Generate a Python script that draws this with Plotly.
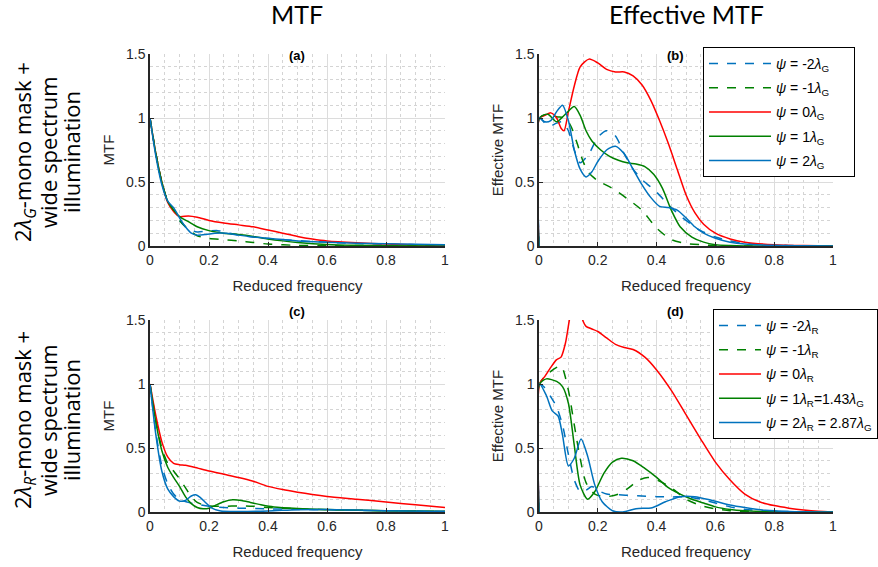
import plotly.graph_objects as go

# ---------------- data ----------------
# Panel (a): MTF, 2λG-mono mask
a_m2_x = [0, 0.02, 0.04, 0.06, 0.08, 0.10, 0.13, 0.16, 0.19, 0.23, 0.27, 0.35, 0.45, 0.55, 0.7, 0.85, 1.0]
a_m2_y = [1.0, 0.72, 0.5, 0.35, 0.28, 0.2, 0.13, 0.11, 0.115, 0.12, 0.1, 0.07, 0.05, 0.035, 0.02, 0.012, 0.008]
a_m1_x = [0, 0.02, 0.04, 0.06, 0.08, 0.10, 0.13, 0.16, 0.2, 0.25, 0.3, 0.35, 0.4, 0.5, 0.6, 0.8, 1.0]
a_m1_y = [1.0, 0.72, 0.5, 0.35, 0.28, 0.2, 0.13, 0.08, 0.06, 0.05, 0.04, 0.028, 0.015, 0.005, 0.002, 0, 0]
a_0_x = [0, 0.02, 0.04, 0.06, 0.08, 0.1, 0.13, 0.16, 0.2, 0.25, 0.3, 0.35, 0.4, 0.45, 0.5, 0.55, 0.6, 0.7, 0.8, 0.9, 1.0]
a_0_y = [1.0, 0.72, 0.5, 0.34, 0.27, 0.23, 0.235, 0.225, 0.2, 0.18, 0.165, 0.15, 0.125, 0.1, 0.075, 0.055, 0.04, 0.025, 0.015, 0.01, 0.008]
a_p1_x = [0, 0.02, 0.04, 0.06, 0.08, 0.1, 0.13, 0.16, 0.2, 0.25, 0.3, 0.35, 0.4, 0.45, 0.5, 0.6, 0.7, 0.8, 1.0]
a_p1_y = [1.0, 0.72, 0.5, 0.35, 0.28, 0.23, 0.19, 0.15, 0.12, 0.1, 0.09, 0.075, 0.055, 0.04, 0.028, 0.012, 0.005, 0.002, 0]
a_p2_x = [0, 0.02, 0.04, 0.06, 0.08, 0.1, 0.12, 0.14, 0.16, 0.19, 0.22, 0.26, 0.3, 0.35, 0.4, 0.45, 0.5, 0.6, 0.7, 0.8, 0.9, 1.0]
a_p2_y = [1.0, 0.7, 0.48, 0.35, 0.3, 0.22, 0.15, 0.1, 0.085, 0.09, 0.1, 0.1, 0.085, 0.07, 0.06, 0.05, 0.04, 0.03, 0.022, 0.018, 0.014, 0.01]

# Panel (b): effective MTF, 2λG-mono mask
b_m2_x = [0, 0.002, 0.02, 0.04, 0.06, 0.08, 0.1, 0.12, 0.14, 0.17, 0.2, 0.23, 0.26, 0.29, 0.32, 0.35, 0.4, 0.45, 0.5, 0.55, 0.6, 0.65, 0.7, 0.8, 0.9, 1.0]
b_m2_y = [0, 1.0, 0.96, 0.94, 0.96, 0.97, 0.9, 0.75, 0.65, 0.72, 0.85, 0.9, 0.86, 0.72, 0.6, 0.52, 0.42, 0.3, 0.2, 0.12, 0.07, 0.04, 0.02, 0.008, 0.002, 0]
b_m1_x = [0, 0.002, 0.03, 0.06, 0.09, 0.11, 0.13, 0.15, 0.17, 0.2, 0.25, 0.3, 0.35, 0.4, 0.45, 0.5, 0.55, 0.6, 0.7, 1.0]
b_m1_y = [0, 1.0, 1.03, 1.01, 1.0, 0.93, 0.8, 0.66, 0.57, 0.51, 0.45, 0.37, 0.28, 0.14, 0.05, 0.02, 0.01, 0.004, 0, 0]
b_0_x = [0, 0.002, 0.02, 0.04, 0.06, 0.075, 0.085, 0.1, 0.12, 0.14, 0.17, 0.2, 0.23, 0.26, 0.29, 0.32, 0.35, 0.38, 0.41, 0.44, 0.47, 0.5, 0.53, 0.56, 0.6, 0.65, 0.7, 0.8, 0.9, 1.0]
b_0_y = [0, 1.0, 1.02, 1.04, 1.0, 0.92, 0.9, 1.05, 1.25, 1.4, 1.46, 1.43, 1.38, 1.36, 1.36, 1.33, 1.26, 1.14, 0.98, 0.8, 0.6, 0.4, 0.26, 0.17, 0.1, 0.055, 0.03, 0.01, 0.003, 0]
b_p1_x = [0, 0.002, 0.03, 0.06, 0.09, 0.12, 0.14, 0.16, 0.18, 0.21, 0.24, 0.27, 0.3, 0.33, 0.36, 0.39, 0.42, 0.45, 0.48, 0.52, 0.56, 0.6, 0.65, 0.7, 1.0]
b_p1_y = [0, 1.0, 1.03, 0.97, 1.03, 1.09, 1.02, 0.9, 0.82, 0.75, 0.7, 0.67, 0.65, 0.64, 0.62, 0.56, 0.45, 0.28, 0.15, 0.07, 0.03, 0.01, 0.003, 0, 0]
b_p2_x = [0, 0.002, 0.02, 0.04, 0.06, 0.08, 0.1, 0.12, 0.14, 0.16, 0.18, 0.2, 0.23, 0.26, 0.29, 0.32, 0.35, 0.38, 0.41, 0.44, 0.47, 0.5, 0.53, 0.56, 0.6, 0.65, 0.7, 0.8, 0.9, 1.0]
b_p2_y = [0, 1.0, 0.97, 0.98, 1.05, 1.1, 0.98, 0.75, 0.6, 0.54, 0.58, 0.66, 0.75, 0.78, 0.72, 0.6, 0.48, 0.38, 0.31, 0.3, 0.28, 0.22, 0.15, 0.1, 0.06, 0.03, 0.015, 0.005, 0.001, 0]

# Panel (c): MTF, 2λR-mono mask
c_m2_x = [0, 0.02, 0.04, 0.06, 0.08, 0.1, 0.13, 0.16, 0.2, 0.25, 0.3, 0.4, 0.5, 0.6, 0.8, 1.0]
c_m2_y = [1.0, 0.62, 0.36, 0.22, 0.14, 0.1, 0.075, 0.06, 0.045, 0.035, 0.03, 0.025, 0.02, 0.017, 0.01, 0.005]
c_m1_x = [0, 0.02, 0.04, 0.06, 0.08, 0.1, 0.12, 0.14, 0.16, 0.19, 0.22, 0.26, 0.3, 0.35, 0.4, 0.5, 0.6, 0.8, 1.0]
c_m1_y = [1.0, 0.72, 0.5, 0.38, 0.32, 0.26, 0.19, 0.12, 0.075, 0.05, 0.045, 0.045, 0.048, 0.045, 0.035, 0.025, 0.018, 0.01, 0.005]
c_0_x = [0, 0.02, 0.04, 0.06, 0.08, 0.1, 0.12, 0.15, 0.2, 0.25, 0.3, 0.35, 0.4, 0.45, 0.5, 0.55, 0.6, 0.7, 0.8, 0.9, 1.0]
c_0_y = [1.0, 0.75, 0.55, 0.43, 0.38, 0.37, 0.365, 0.35, 0.32, 0.295, 0.27, 0.24, 0.2, 0.175, 0.155, 0.137, 0.122, 0.1, 0.078, 0.056, 0.036]
c_p1_x = [0, 0.02, 0.04, 0.06, 0.08, 0.1, 0.12, 0.14, 0.16, 0.18, 0.2, 0.22, 0.25, 0.28, 0.31, 0.34, 0.38, 0.42, 0.5, 0.6, 0.8, 1.0]
c_p1_y = [1.0, 0.7, 0.48, 0.35, 0.27, 0.2, 0.12, 0.065, 0.035, 0.025, 0.03, 0.05, 0.08, 0.095, 0.09, 0.075, 0.055, 0.04, 0.028, 0.02, 0.01, 0.004]
c_p2_x = [0, 0.02, 0.04, 0.06, 0.08, 0.1, 0.12, 0.14, 0.155, 0.17, 0.19, 0.21, 0.24, 0.3, 0.4, 0.5, 0.6, 0.7, 0.8, 1.0]
c_p2_y = [1.0, 0.6, 0.32, 0.18, 0.12, 0.085, 0.09, 0.125, 0.135, 0.115, 0.07, 0.03, 0.008, 0.004, 0.008, 0.018, 0.02, 0.015, 0.01, 0.004]

# Panel (d): effective MTF, 2λR-mono mask
d_m2_x = [0, 0.002, 0.02, 0.04, 0.06, 0.08, 0.1, 0.12, 0.14, 0.16, 0.18, 0.2, 0.23, 0.27, 0.3, 0.35, 0.4, 0.45, 0.5, 0.55, 0.6, 0.65, 0.7, 0.8, 0.9, 1.0]
d_m2_y = [0, 1.0, 0.97, 0.9, 0.82, 0.68, 0.45, 0.25, 0.16, 0.17, 0.2, 0.17, 0.14, 0.135, 0.13, 0.125, 0.12, 0.118, 0.118, 0.1, 0.07, 0.04, 0.02, 0.006, 0.001, 0]
d_m1_x = [0, 0.002, 0.03, 0.06, 0.076, 0.1, 0.12, 0.14, 0.16, 0.19, 0.23, 0.27, 0.3, 0.34, 0.37, 0.39, 0.42, 0.45, 0.5, 0.55, 0.6, 0.65, 0.7, 0.8, 1.0]
d_m1_y = [0, 1.0, 1.08, 1.13, 1.14, 0.95, 0.68, 0.42, 0.23, 0.14, 0.12, 0.14, 0.18, 0.25, 0.27, 0.26, 0.23, 0.19, 0.1, 0.05, 0.025, 0.01, 0.004, 0, 0]
d_0_x = [0, 0.002, 0.02, 0.04, 0.06, 0.075, 0.09, 0.105, 0.12, 0.135, 0.15, 0.16, 0.18, 0.2, 0.23, 0.26, 0.29, 0.32, 0.36, 0.4, 0.45, 0.5, 0.55, 0.6, 0.65, 0.7, 0.75, 0.8, 0.85, 0.9, 0.95, 1.0]
d_0_y = [0, 1.0, 1.06, 1.13, 1.19, 1.21, 1.32, 1.52, 1.65, 1.62, 1.49, 1.45, 1.43, 1.41, 1.36, 1.31, 1.285, 1.27, 1.21, 1.11, 0.95, 0.76, 0.57, 0.39, 0.25, 0.14, 0.08, 0.05, 0.03, 0.015, 0.005, 0]
d_p1_x = [0, 0.002, 0.025, 0.06, 0.08, 0.1, 0.12, 0.14, 0.165, 0.19, 0.22, 0.25, 0.28, 0.32, 0.36, 0.4, 0.44, 0.48, 0.52, 0.56, 0.6, 0.65, 0.7, 0.8, 1.0]
d_p1_y = [0, 1.0, 1.04, 1.02, 0.98, 0.85, 0.52, 0.21, 0.1, 0.16, 0.3, 0.39, 0.42, 0.4, 0.34, 0.27, 0.19, 0.14, 0.1, 0.07, 0.04, 0.02, 0.01, 0.002, 0]
d_p2_x = [0, 0.002, 0.025, 0.045, 0.065, 0.08, 0.1, 0.12, 0.143, 0.165, 0.19, 0.215, 0.25, 0.285, 0.33, 0.385, 0.43, 0.48, 0.53, 0.59, 0.65, 0.7, 0.77, 0.85, 1.0]
d_p2_y = [0, 1.0, 0.91, 0.79, 0.75, 0.6, 0.36, 0.42, 0.57, 0.44, 0.21, 0.08, 0.01, 0.0, 0.026, 0.034, 0.08, 0.12, 0.12, 0.09, 0.055, 0.035, 0.013, 0.004, 0]

labels_G = ["<i>ψ</i> = -2<i>λ</i><sub>G</sub>", "<i>ψ</i> = -1<i>λ</i><sub>G</sub>", "<i>ψ</i> = 0<i>λ</i><sub>G</sub>",
            "<i>ψ</i> = 1<i>λ</i><sub>G</sub>", "<i>ψ</i> = 2<i>λ</i><sub>G</sub>"]
labels_R = ["<i>ψ</i> = -2<i>λ</i><sub>R</sub>", "<i>ψ</i> = -1<i>λ</i><sub>R</sub>", "<i>ψ</i> = 0<i>λ</i><sub>R</sub>",
            "<i>ψ</i> = 1<i>λ</i><sub>R</sub>=1.43<i>λ</i><sub>G</sub>",
            "<i>ψ</i> = 2<i>λ</i><sub>R</sub> = 2.87<i>λ</i><sub>G</sub>"]

# ---------------- styling ----------------
BLUE = "#0072BD"
GREEN = "#008000"
RED = "#FF0000"
colors = [BLUE, GREEN, RED, GREEN, BLUE]
dashes = ["dash", "dash", "solid", "solid", "solid"]

W, H = 878, 567
def px_x(p):
    return p / W
def px_y(p):
    return 1 - p / H

XD_L = [px_x(150), px_x(445)]
XD_R = [px_x(539), px_x(833)]
YD_T = [px_y(246), px_y(54)]
YD_B = [px_y(512), px_y(320)]

PAD = "&nbsp;" * 5  # right padding inside legend (b) box

panels = [
    ("x", "y", [(a_m2_x, a_m2_y), (a_m1_x, a_m1_y), (a_0_x, a_0_y), (a_p1_x, a_p1_y), (a_p2_x, a_p2_y)], None, None, ""),
    ("x2", "y2", [(b_m2_x, b_m2_y), (b_m1_x, b_m1_y), (b_0_x, b_0_y), (b_p1_x, b_p1_y), (b_p2_x, b_p2_y)], labels_G, "legend", PAD),
    ("x3", "y3", [(c_m2_x, c_m2_y), (c_m1_x, c_m1_y), (c_0_x, c_0_y), (c_p1_x, c_p1_y), (c_p2_x, c_p2_y)], None, None, ""),
    ("x4", "y4", [(d_m2_x, d_m2_y), (d_m1_x, d_m1_y), (d_0_x, d_0_y), (d_p1_x, d_p1_y), (d_p2_x, d_p2_y)], labels_R, "legend2", ""),
]

fig = go.Figure()
for pi, (xa, ya, series, labels, leg, pad) in enumerate(panels):
    for i, (sx, sy) in enumerate(series):
        fig.add_trace(go.Scatter(
            x=sx, y=sy, mode="lines", xaxis=xa, yaxis=ya,
            line=dict(color=colors[i], width=1.5, dash=dashes[i], shape="spline", smoothing=0.7),
            name=(labels[i] + pad) if labels else "",
            showlegend=bool(labels),
            legend=leg if leg else "legend",
            legendgroup=f"p{pi}s{i}",
        ))

TICK_FONT = dict(family="Liberation Sans, Arial, sans-serif", size=14, color="#262626")
TITLE_FONT = dict(family="Liberation Sans, Arial, sans-serif", size=15, color="#262626")
AX_COL = "#262626"

def xaxis(domain, anchor):
    return dict(domain=domain, anchor=anchor, range=[0, 1], dtick=0.2, tick0=0,
                automargin=False,
                showgrid=True, gridcolor="#dcdcdc", gridwidth=1,
                minor=dict(dtick=0.05, showgrid=True, gridcolor="#d4d4d4", griddash="dot", gridwidth=1),
                showline=True, linecolor=AX_COL, linewidth=1.5, mirror=False,
                ticks="inside", ticklen=4, tickcolor=AX_COL, tickwidth=1,
                tickfont=TICK_FONT, zeroline=False,
                title=dict(text="Reduced frequency", font=TITLE_FONT, standoff=14))

def yaxis(domain, anchor, title):
    return dict(domain=domain, anchor=anchor, range=[0, 1.5], dtick=0.5, tick0=0,
                automargin=False,
                showgrid=True, gridcolor="#dcdcdc", gridwidth=1,
                minor=dict(dtick=0.1, showgrid=True, gridcolor="#d4d4d4", griddash="dot", gridwidth=1),
                showline=True, linecolor=AX_COL, linewidth=1.5, mirror=False,
                ticks="inside", ticklen=4, tickcolor=AX_COL, tickwidth=1,
                tickfont=TICK_FONT, zeroline=False,
                title=dict(text=title, font=TITLE_FONT, standoff=8))

BIG = dict(family="Lato, Open Sans, sans-serif", size=25, color="#000000")
ROW = dict(family="Open Sans, Lato, sans-serif", size=22, color="#000000")
SUB = dict(family="Liberation Sans, Arial, sans-serif", size=13, color="#000000")

annotations = [
    dict(text="MTF", x=px_x(297), y=px_y(14), xref="paper", yref="paper", showarrow=False, font=BIG, xanchor="center", yanchor="middle"),
    dict(text="Effective MTF", x=px_x(686), y=px_y(14), xref="paper", yref="paper", showarrow=False, font=BIG, xanchor="center", yanchor="middle"),
    dict(text="<b>(a)</b>", x=px_x(297), y=px_y(46), xref="paper", yref="paper", showarrow=False, font=SUB),
    dict(text="<b>(b)</b>", x=px_x(686), y=px_y(46), xref="paper", yref="paper", showarrow=False, font=SUB),
    dict(text="<b>(c)</b>", x=px_x(297), y=px_y(311), xref="paper", yref="paper", showarrow=False, font=SUB),
    dict(text="<b>(d)</b>", x=px_x(686), y=px_y(311), xref="paper", yref="paper", showarrow=False, font=SUB),
]
row_lines = [
    ["2<i>λ<sub>G</sub></i>-mono mask +", "wide spectrum", "illumination"],
    ["2<i>λ<sub>R</sub></i>-mono mask +", "wide spectrum", "illumination"],
]
row_centers_y = [152, 420]
line_x = [24, 48, 71]
for r, lines in enumerate(row_lines):
    for k, txt in enumerate(lines):
        annotations.append(dict(text=txt, textangle=-90, x=px_x(line_x[k]), y=px_y(row_centers_y[r]),
                                xref="paper", yref="paper", showarrow=False, font=ROW,
                                xanchor="center", yanchor="middle"))

LEG_FONT = dict(family="Liberation Sans, Arial, sans-serif", size=14, color="#000000")
fig.update_layout(
    template="none",
    width=W, height=H, margin=dict(l=0, r=0, t=0, b=0),
    paper_bgcolor="white", plot_bgcolor="white",
    xaxis=xaxis(XD_L, "y"), yaxis=yaxis(YD_T, "x", "MTF"),
    xaxis2=xaxis(XD_R, "y2"), yaxis2=yaxis(YD_T, "x2", "Effective MTF"),
    xaxis3=xaxis(XD_L, "y3"), yaxis3=yaxis(YD_B, "x3", "MTF"),
    xaxis4=xaxis(XD_R, "y4"), yaxis4=yaxis(YD_B, "x4", "Effective MTF"),
    legend=dict(x=px_x(703), y=px_y(47), xanchor="left", yanchor="top",
                bgcolor="white", bordercolor="#000000", borderwidth=1, font=LEG_FONT,
                itemwidth=62, tracegroupgap=3),
    legend2=dict(x=px_x(713), y=px_y(309), xanchor="left", yanchor="top",
                 bgcolor="white", bordercolor="#000000", borderwidth=1, font=LEG_FONT,
                 itemwidth=42, tracegroupgap=3),
    annotations=annotations,
    showlegend=True,
)

fig.write_html("out.html", config={"displayModeBar": False},
               post_script="document.body.style.margin='0';document.body.style.padding='0';")
